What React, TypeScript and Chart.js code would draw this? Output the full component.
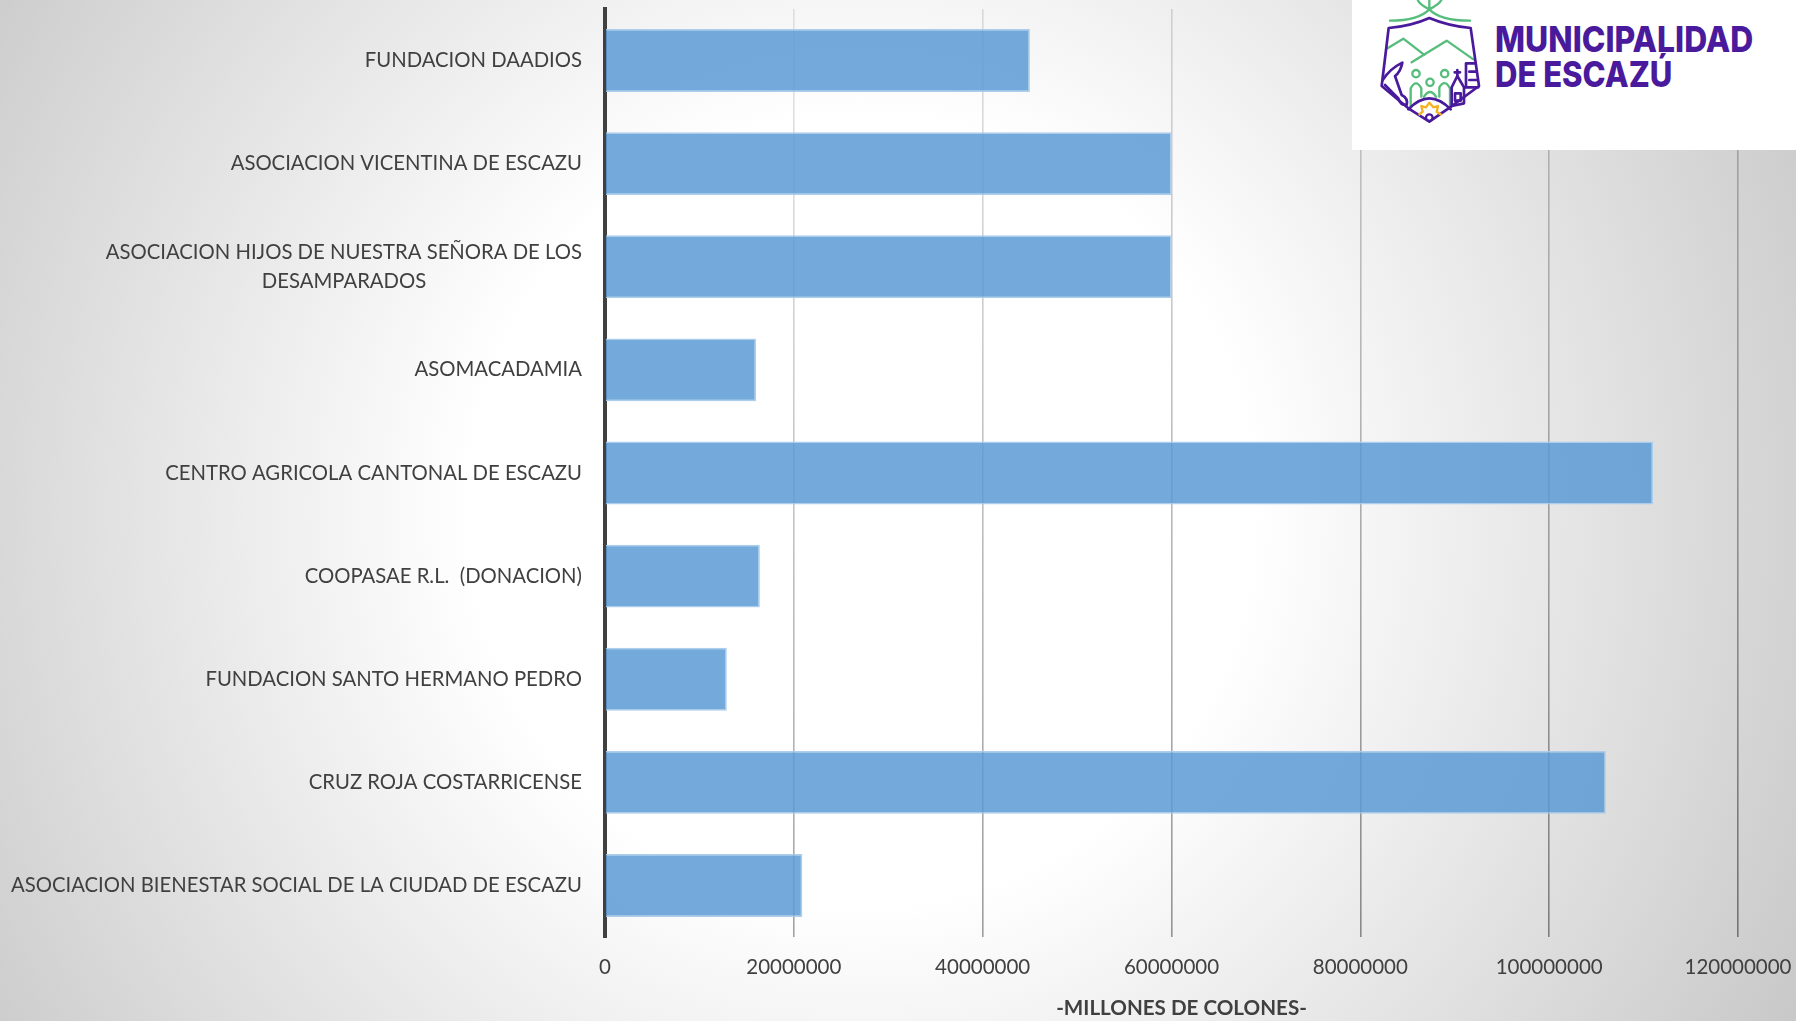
import React, { useEffect, useRef } from "react";
import { Chart, registerables } from "chart.js";

Chart.register(...registerables);

const categories = [
  "FUNDACION DAADIOS",
  "ASOCIACION VICENTINA DE ESCAZU",
  ["ASOCIACION HIJOS DE NUESTRA SEÑORA DE LOS", "DESAMPARADOS"],
  "ASOMACADAMIA",
  "CENTRO AGRICOLA CANTONAL DE ESCAZU",
  "COOPASAE R.L.  (DONACION)",
  "FUNDACION SANTO HERMANO PEDRO",
  "CRUZ ROJA COSTARRICENSE",
  "ASOCIACION BIENESTAR SOCIAL DE LA CIUDAD DE ESCAZU",
];
const amounts = [45000000, 60000000, 60000000, 16000000, 111000000, 16400000, 12900000, 106000000, 20900000];
const axisTitle = "-MILLONES DE COLONES-";
const axisMax = 120000000;
const axisStep = 20000000;

const FONT = "Lato, 'Open Sans', sans-serif";
const PURPLE = "#4a1a9c";
const GREEN = "#57bd7c";

function Logo() {
  return (
    <svg
      style={{ position: "absolute", left: 1352, top: 0, width: 444, height: 150, background: "#fff" }}
      viewBox="36 0 1332 450"
      fill="none"
    >
      <g stroke={GREEN} strokeWidth="7" strokeLinecap="round" strokeLinejoin="round">
        <path d="M150,62 Q235,62 268,28 Q300,62 390,62" />
        <path d="M268,28 Q235,12 232,-4 M268,28 Q300,12 306,-4 M268,28 L268,-4" />
        <path d="M140,146 L190,116 L252,164" />
        <path d="M215,187 L320,122 L400,178" />
        <circle cx="228" cy="221" r="11" />
        <circle cx="270" cy="247" r="11" />
        <circle cx="314" cy="221" r="11" />
        <path d="M212,322 L212,265 Q228,235 244,265 L244,290" />
        <path d="M252,290 Q270,262 288,290" />
        <path d="M298,290 L298,262 Q314,235 330,265 L330,318" />
      </g>
      <g stroke={PURPLE} strokeWidth="8" strokeLinecap="round" strokeLinejoin="round">
        <path d="M146,84 Q215,78 268,54 Q325,78 392,84 L417,258 L330,322 L268,365 L205,325 L125,258 Z" />
        <path d="M128,240 Q150,206 187,188 Q182,215 165,228 L185,285 Q205,295 200,315 Q180,315 175,295 L135,255" />
        <path d="M205,328 Q268,262 332,328" />
        <path d="M335,262 L352,228 L372,262 L372,310 L335,318 Z M345,280 L362,280 L362,302 L345,302 Z" />
        <path d="M352,210 L352,230 M344,217 L360,217" />
        <path d="M378,190 L405,190 M378,190 L378,262 M388,215 L408,215 M388,240 L410,240 M375,262 L415,262" />
      </g>
      <path
        d="M236,345 L248,335 L244,318 L258,322 L268,308 L280,322 L294,318 L290,335 L305,345"
        stroke="#f4b223"
        strokeWidth="7"
        strokeLinejoin="round"
      />
      <circle cx="268" cy="353" r="10" stroke={PURPLE} strokeWidth="7" />
      <g fill={PURPLE} fontFamily="Inter, Lato, sans-serif" fontWeight="800" fontSize="105">
        <text x="465" y="155" textLength="775" lengthAdjust="spacingAndGlyphs">MUNICIPALIDAD</text>
        <text x="465" y="262" textLength="532" lengthAdjust="spacingAndGlyphs">DE ESCAZÚ</text>
      </g>
    </svg>
  );
}

export default function App() {
  const ref = useRef<HTMLCanvasElement>(null);

  useEffect(() => {
    const canvas = ref.current!;
    const gridGradient = canvas.getContext("2d")!.createLinearGradient(793, 50, 1232, 1134);
    gridGradient.addColorStop(0, "rgba(40,40,40,0.12)");
    gridGradient.addColorStop(1, "rgba(40,40,40,0.55)");

    const chart = new Chart(canvas, {
      type: "bar",
      data: {
        labels: categories as any,
        datasets: [
          {
            data: amounts,
            backgroundColor: "rgba(91,155,213,0.85)",
            borderColor: "rgba(168,203,235,0.95)",
            borderWidth: 1.5,
            barPercentage: 0.61,
            categoryPercentage: 1,
          },
        ],
      },
      options: {
        indexAxis: "y",
        responsive: false,
        animation: false,
        layout: { padding: { top: 9, right: 58, bottom: 0, left: 0 } },
        plugins: { legend: { display: false }, tooltip: { enabled: false } },
        scales: {
          x: {
            min: 0,
            max: axisMax,
            afterFit: (s: any) => {
              s.height = 84;
              s.paddingLeft = 0;
              s.paddingRight = 0;
            },
            ticks: {
              stepSize: axisStep,
              padding: 18,
              maxRotation: 0,
              color: "#404040",
              font: { family: FONT, size: 20.5 },
              callback: (v: any) => String(v),
            },
            grid: { color: gridGradient, lineWidth: 1.6, drawTicks: false },
            border: { display: false },
            title: {
              display: true,
              text: "    " + axisTitle,
              color: "#404040",
              font: { family: FONT, size: 20.6, weight: "bold" },
              padding: { top: 8, bottom: 0 },
            },
          },
          y: {
            afterFit: (s: any) => {
              s.width = 605;
              s.paddingTop = 0;
              s.paddingBottom = 0;
            },
            ticks: {
              autoSkip: false,
              padding: 23,
              color: "#404040",
              font: { family: FONT, size: 20.3, lineHeight: 1.45 },
              callback: (_v: any, i: number) => {
                const l = categories[i];
                return Array.isArray(l) ? [l[0], l[1] + " ".repeat(30)] : l;
              },
            },
            grid: { display: false, drawTicks: false },
            border: { display: true, color: "#404040", width: 4 },
          },
        },
      },
    } as any);
    return () => chart.destroy();
  }, []);

  return (
    <div
      style={{
        position: "fixed",
        left: 0,
        top: 0,
        width: 1796,
        height: 1021,
        overflow: "hidden",
        background: "radial-gradient(ellipse 62% 110% at 48% 50%, #ffffff 35%, #c4c4c4 100%)",
      }}
    >
      <canvas ref={ref} width={1796} height={1021} style={{ position: "absolute", left: 0, top: 0 }} />
      <Logo />
    </div>
  );
}
